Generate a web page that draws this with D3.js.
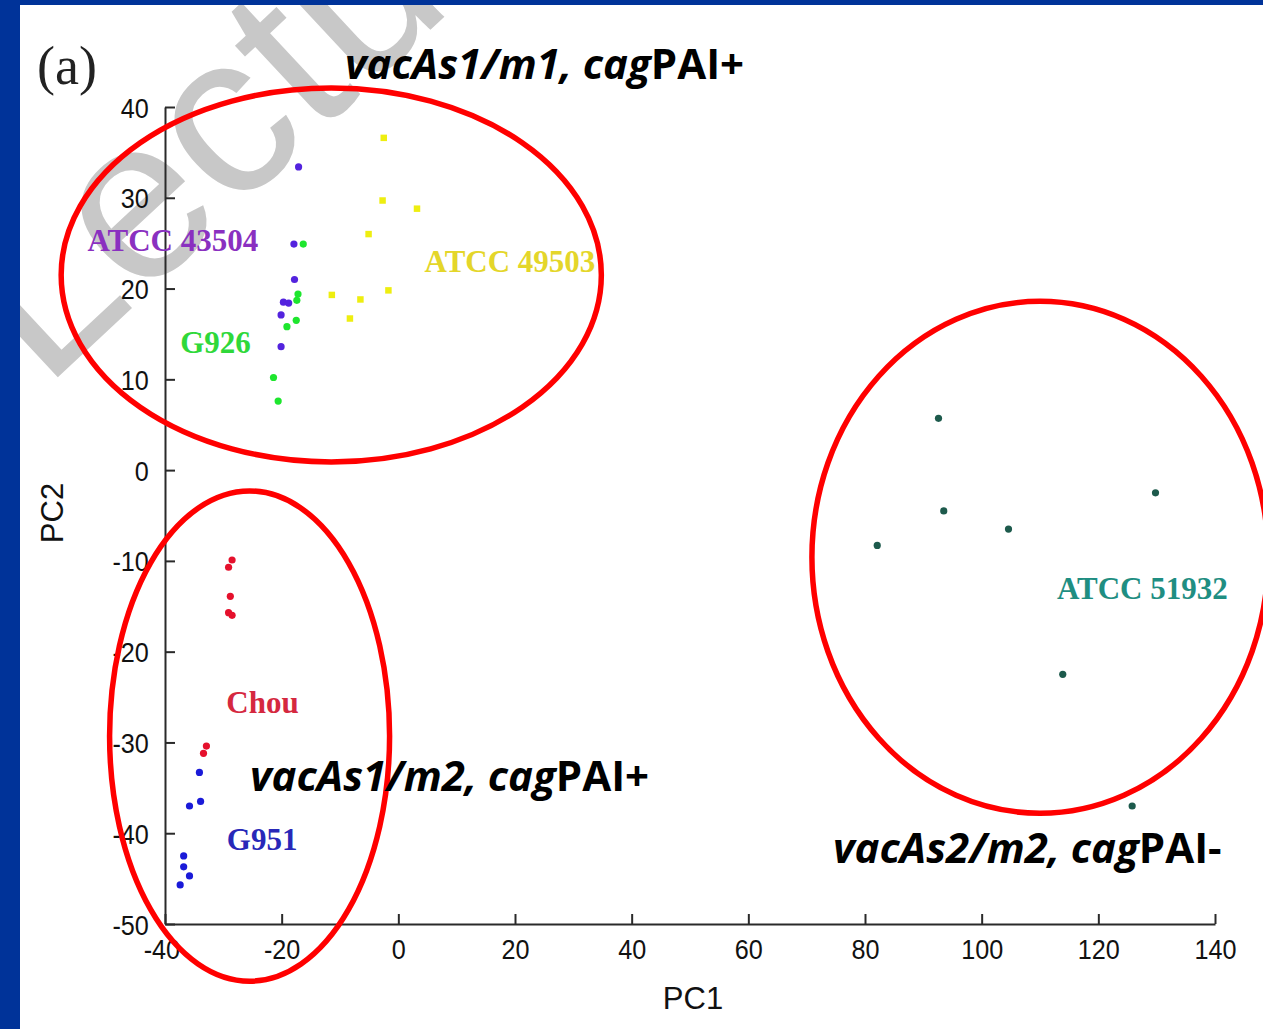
<!DOCTYPE html>
<html>
<head>
<meta charset="utf-8">
<script src="https://cdn.jsdelivr.net/npm/d3@7"></script>
<style>
  html, body { margin: 0; padding: 0; background: #ffffff; }
  svg { display: block; }
</style>
</head>
<body>
<svg id="chart" width="1263" height="1029"></svg>
<script>
// PCA scores (PC1, PC2) for each strain
const strains = ["ATCC 43504", "G926", "ATCC 49503", "Chou", "G951", "ATCC 51932"];

const atcc43504PC1 = [-17.1, -17.9, -17.8, -19.7, -18.8, -20.1, -20.1];
const atcc43504PC2 = [33.4, 24.9, 21.0, 18.5, 18.4, 17.1, 13.6];

const g926PC1 = [-16.3, -17.4, -17.2, -17.5, -19.1, -21.4, -20.6];
const g926PC2 = [24.9, 18.7, 19.4, 16.5, 15.8, 10.2, 7.6];

const atcc49503PC1 = [-2.5, -2.7, 3.2, -5.1, -1.7, -11.4, -6.5, -8.3];
const atcc49503PC2 = [36.6, 29.7, 28.8, 26.0, 19.8, 19.3, 18.8, 16.7];

const chouPC1 = [-28.5, -29.1, -28.8, -29.1, -28.5, -32.9, -33.4];
const chouPC2 = [-9.9, -10.7, -13.9, -15.7, -16.0, -30.4, -31.2];

const g951PC1 = [-34.1, -33.9, -35.8, -36.8, -36.8, -35.8, -37.4];
const g951PC2 = [-33.3, -36.5, -37.0, -42.5, -43.7, -44.7, -45.7];

const atcc51932PC1 = [92.6, 93.5, 82.1, 104.6, 129.8, 113.9, 125.8];
const atcc51932PC2 = [5.7, -4.5, -8.3, -6.5, -2.5, -22.5, -37.0];

// axis ticks
const xTicks = [-40, -20, 0, 20, 40, 60, 80, 100, 120, 140];
const yTicks = [-50, -40, -30, -20, -10, 0, 10, 20, 30, 40];

// strain label anchors in PC units
const labelPC1 = [-53.3, -37.4, 4.5, -29.5, -29.4, 112.9];
const labelPC2 = [24.1, 12.9, 21.8, -26.8, -41.9, -14.2];

// genotype groups: ellipse centre and radii in PC units
const genotypes = ["vacAs1/m1, cagPAI+", "vacAs1/m2, cagPAI+", "vacAs2/m2, cagPAI-"];
const groupCX = [-11.5, -25.5, 110.0];
const groupCY = [21.5, -29.3, -9.6];
const groupRX = [46.3, 24.0, 39.1];
const groupRY = [20.6, 27.0, 28.2];

const dotColors = ["#5323de", "#1ee62e", "#eeee10", "#e5102c", "#1a1ad8", "#1d5a4c"];
const labelColors = ["#8a30c0", "#2fd83a", "#e4d62a", "#d5283f", "#2828b8", "#1f8e82"];

const seriesPC1 = [atcc43504PC1, g926PC1, atcc49503PC1, chouPC1, g951PC1, atcc51932PC1];
const seriesPC2 = [atcc43504PC2, g926PC2, atcc49503PC2, chouPC2, g951PC2, atcc51932PC2];

const svg = d3.select("#chart");
const W = 1263, H = 1029;

const x = d3.scaleLinear().domain([-40, 140]).range([165, 1215]);
const y = d3.scaleLinear().domain([-50, 40]).range([924, 107]);

// page background with slide frame
svg.append("rect").attr("width", W).attr("height", H).attr("fill", "#ffffff");

// faint diagonal watermark
svg.append("text")
  .attr("transform", "translate(44,390) rotate(-43)")
  .attr("font-family", "'Liberation Sans', Arial, sans-serif")
  .attr("font-size", 230)
  .attr("fill", "#c8c8c8")
  .text("Lecture");

svg.append("rect").attr("x", 0).attr("y", 0).attr("width", 20).attr("height", H).attr("fill", "#003399");
svg.append("rect").attr("x", 0).attr("y", 0).attr("width", W).attr("height", 5).attr("fill", "#003399");

// panel tag
svg.append("text")
  .attr("x", 37).attr("y", 84)
  .attr("font-family", "'Liberation Serif', 'Times New Roman', serif")
  .attr("font-size", 54)
  .attr("fill", "#222")
  .text("(a)");

// axes
const fmt = d => String(d);
const axisFont = "'Liberation Sans', Arial, sans-serif";

const gx = svg.append("g")
  .attr("transform", `translate(0,${y(-50)})`)
  .call(d3.axisBottom(x).tickValues(xTicks).tickFormat(fmt).tickSizeInner(-10).tickSizeOuter(0).tickPadding(10));
const gy = svg.append("g")
  .attr("transform", `translate(${x(-40)},0)`)
  .call(d3.axisLeft(y).tickValues(yTicks).tickFormat(fmt).tickSizeInner(-10).tickSizeOuter(0).tickPadding(18));

[gx, gy].forEach(g => {
  g.select(".domain").attr("stroke", "#2a2a2a").attr("stroke-width", 2);
  g.selectAll(".tick line").attr("stroke", "#2a2a2a").attr("stroke-width", 2);
  g.selectAll(".tick text")
    .attr("font-family", axisFont)
    .attr("font-size", 28)
    .attr("fill", "#111");
});
gx.selectAll(".tick text").attr("dy", "0.9em");
gx.selectAll(".tick text").attr("transform", "scale(0.9,1)");
gy.selectAll(".tick text").attr("transform", "scale(0.9,1)").attr("dy", "0.36em");
// -40 and -50 share the corner: nudge them apart
gx.selectAll(".tick").filter(d => d === -40).select("text").attr("x", -4);

svg.append("text")
  .attr("x", 693).attr("y", 1009)
  .attr("text-anchor", "middle")
  .attr("font-family", axisFont)
  .attr("font-size", 31)
  .attr("fill", "#111")
  .text("PC1");
svg.append("text")
  .attr("transform", "translate(63,513) rotate(-90)")
  .attr("text-anchor", "middle")
  .attr("font-family", axisFont)
  .attr("font-size", 31)
  .attr("fill", "#111")
  .text("PC2");

// scores
strains.forEach((s, i) => {
  const pts = seriesPC1[i].map((v, j) => [v, seriesPC2[i][j]]);
  const g = svg.append("g").attr("class", "strain");
  if (i === 2) {
    g.selectAll("path").data(pts).join("path")
      .attr("transform", d => `translate(${x(d[0])},${y(d[1])})`)
      .attr("d", d3.symbol(d3.symbolSquare, 42)())
      .attr("fill", dotColors[i]);
  } else {
    g.selectAll("circle").data(pts).join("circle")
      .attr("cx", d => x(d[0])).attr("cy", d => y(d[1]))
      .attr("r", 3.6)
      .attr("fill", dotColors[i]);
  }
  svg.append("text")
    .attr("x", x(labelPC1[i])).attr("y", y(labelPC2[i]))
    .attr("font-family", "'Liberation Serif', 'Times New Roman', serif")
    .attr("font-weight", "bold")
    .attr("font-size", 31)
    .attr("fill", labelColors[i])
    .text(s);
});

// genotype ellipses
svg.append("g").selectAll("ellipse").data(genotypes).join("ellipse")
  .attr("cx", (d, i) => x(groupCX[i]))
  .attr("cy", (d, i) => y(groupCY[i]))
  .attr("rx", (d, i) => x(groupRX[i]) - x(0))
  .attr("ry", (d, i) => y(0) - y(groupRY[i]))
  .attr("fill", "none")
  .attr("stroke", "#ff0000")
  .attr("stroke-width", 5.5);

// genotype captions: gene names italic, island status upright
const capX = [345, 250, 833];
const capY = [79, 791, 863];
genotypes.forEach((gname, i) => {
  const cut = gname.indexOf("PAI");
  const t = svg.append("text")
    .attr("x", capX[i]).attr("y", capY[i])
    .attr("font-family", "'Open Sans', Lato, sans-serif")
    .attr("font-weight", "bold")
    .attr("font-size", 42)
    .attr("fill", "#000");
  t.append("tspan").attr("font-style", "italic").text(gname.slice(0, cut));
  t.append("tspan").attr("font-style", "normal").text(gname.slice(cut));
});
</script>
</body>
</html>
